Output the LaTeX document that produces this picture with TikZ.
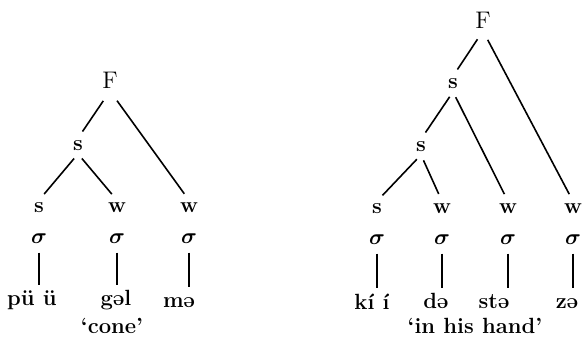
\documentclass[tikz,border=0pt]{standalone}
\usepackage{amsmath}
\usepackage{tikz}
\tikzstyle{top} = [inner sep=1pt, font=\fontsize{12}{14}\selectfont]
\tikzstyle{lab} = [inner sep=1pt, font=\fontsize{11}{13}\selectfont\bfseries]
\tikzstyle{syl} = [inner sep=4pt, font=\fontsize{11}{13}\selectfont]
\tikzstyle{seg} = [inner xsep=0pt, inner ysep=2pt, text height=8pt, font=\fontsize{11}{13}\selectfont\bfseries]
\tikzstyle{gloss} = [inner sep=1pt, font=\fontsize{11}{13}\selectfont\bfseries]
\tikzstyle{branch} = [shorten <=3pt, shorten >=4pt]

\begin{document}
\begin{tikzpicture}[x=0.5pt, y=-0.5pt, line width=0.8pt]
			\useasboundingbox (0,0) rectangle (582,344);
			% pü ü gəl mə
			\node[top] (F1) at (110,80) {F};
			\node[lab] (s1) at (78,146) {s};
			\node[lab] (s2) at (39,208) {s};
			\node[lab] (w2) at (117,208) {w};
			\node[lab] (w3) at (189,208) {w};
			\node[syl] (g1) at (39,239) {$\boldsymbol{\sigma}$};
			\node[syl] (g2) at (117,239) {$\boldsymbol{\sigma}$};
			\node[syl] (g3) at (189,239) {$\boldsymbol{\sigma}$};
			\node[seg] (p1) at (32,300) {pü ü};
			\node[seg] (p2) at (116,300) {gəl};
			\node[seg] (p3) at (179,300) {mə};
			\node[gloss] (c1) at (112,326) {`cone'};
			\draw[branch, shorten <=6pt] (F1.south) -- (s1.north);
			\draw[branch, shorten <=6pt] (F1.south) -- (w3.north);
			\draw[branch] (s1.south) -- (s2.north);
			\draw[branch] (s1.south) -- (w2.north);
			\draw (g1.south) -- (g1.south |- p1.north);
			\draw (g2.south) -- (g2.south |- p2.north);
			\draw (g3.south) -- (g3.south |- p3.north);
			% kí í də stə zə
			\node[top] (F2) at (483,20) {F};
			\node[lab] (s3) at (453,84) {s};
			\node[lab] (s4) at (421,147) {s};
			\node[lab] (s5) at (377,209) {s};
			\node[lab] (w5) at (442,209) {w};
			\node[lab] (w6) at (508,209) {w};
			\node[lab] (w7) at (573,209) {w};
			\node[syl] (g5) at (377,240) {$\boldsymbol{\sigma}$};
			\node[syl] (g6) at (442,240) {$\boldsymbol{\sigma}$};
			\node[syl] (g7) at (508,240) {$\boldsymbol{\sigma}$};
			\node[syl] (g8) at (573,240) {$\boldsymbol{\sigma}$};
			\node[seg] (p5) at (372,301) {kí í};
			\node[seg] (p6) at (436,301) {də};
			\node[seg] (p7) at (494,301) {stə};
			\node[seg] (p8) at (567,301) {zə};
			\node[gloss] (c2) at (475,326) {`in his hand'};
			\draw[branch, shorten <=5pt] (F2.south) -- (s3.north);
			\draw[branch, shorten <=5pt] (F2.south) -- (w7.north);
			\draw[branch] (s3.south) -- (s4.north);
			\draw[branch] (s3.south) -- (w6.north);
			\draw[branch] (s4.south) -- (s5.north);
			\draw[branch] (s4.south) -- (w5.north);
			\draw (g5.south) -- (g5.south |- p5.north);
			\draw (g6.south) -- (g6.south |- p6.north);
			\draw (g7.south) -- (g7.south |- p7.north);
			\draw (g8.south) -- (g8.south |- p8.north);
		\end{tikzpicture}
\end{document}
